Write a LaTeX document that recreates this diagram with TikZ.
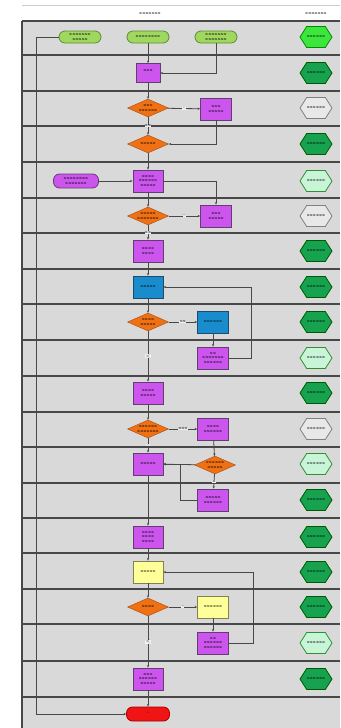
\documentclass[tikz,border=0pt]{standalone}
\usepackage{tikz}
\usetikzlibrary{shapes.geometric, shapes.symbols, arrows.meta, positioning, calc}
\definecolor{bggray}{RGB}{217,217,217}
\definecolor{linegray}{RGB}{72,72,72}
\definecolor{procpurple}{RGB}{204,85,238}
\definecolor{procedge}{RGB}{100,60,115}
\definecolor{decorange}{RGB}{240,112,20}
\definecolor{decedge}{RGB}{160,76,16}
\definecolor{termgreen}{RGB}{160,215,95}
\definecolor{termedge}{RGB}{90,140,50}
\definecolor{taskblue}{RGB}{25,140,205}
\definecolor{taskedge}{RGB}{30,75,105}
\definecolor{noteyellow}{RGB}{255,255,153}
\definecolor{noteedge}{RGB}{130,130,80}
\definecolor{endred}{RGB}{240,20,20}
\definecolor{endedge}{RGB}{170,0,0}
\definecolor{hexbright}{RGB}{60,230,60}
\definecolor{hexdark}{RGB}{22,162,78}
\definecolor{hexmint}{RGB}{200,245,215}

\begin{document}
\begin{tikzpicture}[
    x=1pt, y=-1pt,
    every node/.style = {font=\fontsize{4.3}{4.6}\selectfont, align=center,
                         inner sep=0.5pt},
    term/.style    = {draw=termedge, fill=termgreen, rounded corners=6pt,
                      minimum width=42pt, minimum height=12pt, thick},
    proc/.style    = {draw=procedge, fill=procpurple, minimum width=30pt,
                      minimum height=22pt, thick},
    dec/.style     = {draw=decedge, fill=decorange, diamond, aspect=2.2,
                      minimum width=41pt, minimum height=18pt, inner sep=0pt},
    hexa/.style    = {signal, signal to=east and west,
                      signal pointer angle=115, minimum width=32pt,
                      minimum height=21pt, inner sep=0pt, thick},
    hexon/.style   = {hexa, draw=green!55!black, fill=hexbright},
    hexfull/.style = {hexa, draw=green!35!black, fill=hexdark},
    hexhalf/.style = {hexa, draw=green!45!black!80, fill=hexmint},
    hexnone/.style = {hexa, draw=gray, fill=bggray!60!white},
    rowline/.style = {draw=linegray, line width=1.1pt},
    arrow/.style   = {-{Stealth[length=2.5pt, width=2.2pt]}, draw=linegray,
                      line width=0.8pt},
    elabel/.style  = {fill=bggray!40!white, inner sep=0.4pt}
  ]
  \useasboundingbox (0,0) rectangle (340,728);
  % lanes
  \fill[white] (0,0) rectangle (340,728);
  \fill[bggray] (22,21) rectangle (340,728);
  \draw[gray!40] (22,5) -- (340,5);
  \foreach \k in {21,55,91,126,162,198,233,269,304,340,376,412,447,483,518,553,589,624,661,697}
    \draw[rowline] (22,\k) -- (340,\k);
  \draw[rowline] (22,21) -- (22,728);
  \node (colmain) at (150,14) {xxxxxxx};
  \node (colstate) at (316,14) {xxxxxxx};

  % state column
  \foreach \st/\y [count=\i] in {hexon/37, hexfull/73, hexnone/108,
      hexfull/144, hexhalf/181, hexnone/216, hexfull/251, hexfull/287,
      hexfull/322, hexhalf/358, hexfull/393, hexnone/429, hexhalf/464,
      hexfull/500, hexfull/537, hexfull/572, hexfull/607, hexhalf/643,
      hexfull/679}
    \node[\st] (h\i) at (316,\y) {xxxxxx};

  % flow
  \node[term] (tA) at (80,37)  {xxxxxxx\\xxxxx};
  \node[term] (tB) at (148,37) {xxxxxxxx};
  \node[term] (tC) at (216,37) {xxxxxxx\\xxxxxxx};
  \node[proc, minimum width=24pt, minimum height=19pt] (p2) at (148,73) {xxx\\};
  \node[dec]  (d3)  at (148,108) {xxx\\xxxxxx};
  \node[proc, minimum width=31pt] (p3r) at (216,109) {xxx\\xxxxx};
  \node[dec]  (d4)  at (148,144) {xxxxx};
  \node[term, draw=procedge, fill=procpurple, minimum width=45pt,
        minimum height=14pt] (t5) at (76,181) {xxxxxxxx\\xxxxxxx};
  \node[proc] (p5)  at (148,181) {xxxx\\xxxxxx\\xxxxx};
  \node[dec]  (d6)  at (148,216) {xxxxx\\xxxxxxx};
  \node[proc, minimum width=31pt] (p6r) at (216,216) {xxx\\xxxxx};
  \node[proc] (p7)  at (148,251) {xxxx\\xxxx};
  \node[proc, draw=taskedge, fill=taskblue] (b8) at (148,287) {xxxxx};
  \node[dec]  (d9)  at (148,322) {xxxx\\xxxxx};
  \node[proc, draw=taskedge, fill=taskblue, minimum width=31pt] (b9r) at (213,322) {xxxxxx};
  \node[proc, minimum width=31pt] (p10r) at (213,358) {xx\\xxxxxxx\\xxxxxx};
  \node[proc] (p11) at (148,393) {xxxx\\xxxxx};
  \node[dec]  (d12) at (148,429) {xxxxxx\\xxxxxxx};
  \node[proc, minimum width=31pt] (p12r) at (213,429) {xxxx\\xxxxxx};
  \node[proc] (p13) at (148,464) {xxxxx};
  \node[dec]  (d13r) at (215,465) {xxxxxx\\xxxxx};
  \node[proc, minimum width=31pt] (p14r) at (213,500) {xxxxx\\xxxxxx};
  \node[proc] (p15) at (148,537) {xxxx\\xxxx\\xxxx};
  \node[proc, draw=noteedge, fill=noteyellow] (y16) at (148,572) {xxxxx};
  \node[dec]  (d17) at (148,607) {xxxx};
  \node[proc, draw=noteedge, fill=noteyellow, minimum width=31pt] (y17r) at (213,607) {xxxxxx};
  \node[proc, minimum width=31pt] (p18r) at (213,643) {xx\\xxxxxx\\xxxxxx};
  \node[proc] (p19) at (148,679) {xxx\\xxxxxx\\xxxxx};
  \node[term, draw=endedge, fill=endred, minimum width=43pt,
        minimum height=14pt] (tend) at (148,714) {\^{}};

  \coordinate (k8)  at (251,287);
  \coordinate (j13) at (180,464);
  \coordinate (k16) at (253,572);
  \coordinate (lp)  at (36,714);

  \draw[arrow] (tB) -- (p2);
  \draw[arrow] (tC) |- (p2);
  \draw[arrow] (p2) -- (d3);
  \draw[arrow] (d3) -- node[elabel]{\textasciitilde} (p3r);
  \draw[arrow] (d3) -- node[elabel]{xx} (d4);
  \draw[arrow] (p3r) |- (d4);
  \draw[arrow] (d4) -- (p5);
  \draw[arrow] (t5) -- (p5);
  \draw[arrow] (p5) -| (p6r);
  \draw[arrow] (p5) -- (d6);
  \draw[arrow] (d6) -- node[elabel]{\textasciitilde} (p6r);
  \draw[arrow] (d6) -- node[elabel]{xx} (p7);
  \draw[arrow] (p7) -- (b8);
  \draw[arrow] (b8) -- (d9);
  \draw[arrow] (d9) -- node[elabel]{xx} (b9r);
  \draw[arrow] (b9r) -- (p10r);
  \draw[arrow] (p10r.east) -| (k8) -- (b8.east);
  \draw[arrow] (d9) -- node[elabel]{<} (p11);
  \draw[arrow] (p11) -- (d12);
  \draw[arrow] (d12) -- node[elabel]{xxx} (p12r);
  \draw[arrow] (d12) -- node[elabel]{\textasciitilde} (p13);
  \draw[arrow] (p12r) -- (d13r);
  \draw[arrow] (d13r) -- (p13);
  \draw[arrow] (d13r) -- node[elabel]{x} (p14r);
  \draw[arrow] (p14r.west) -| (j13) -- (p13.east);
  \draw[arrow] (p13) -- (p15);
  \draw[arrow] (p15) -- (y16);
  \draw[arrow] (y16) -- (d17);
  \draw[arrow] (d17) -- node[elabel]{\textasciitilde} (y17r);
  \draw[arrow] (y17r) -- (p18r);
  \draw[arrow] (p18r.east) -| (k16) -- (y16.east);
  \draw[arrow] (d17) -- node[elabel]{<} (p19);
  \draw[arrow] (p19) -- (tend);
  \draw[arrow] (tA.west) -| (lp) -- (tend.west);
\end{tikzpicture}
\end{document}
